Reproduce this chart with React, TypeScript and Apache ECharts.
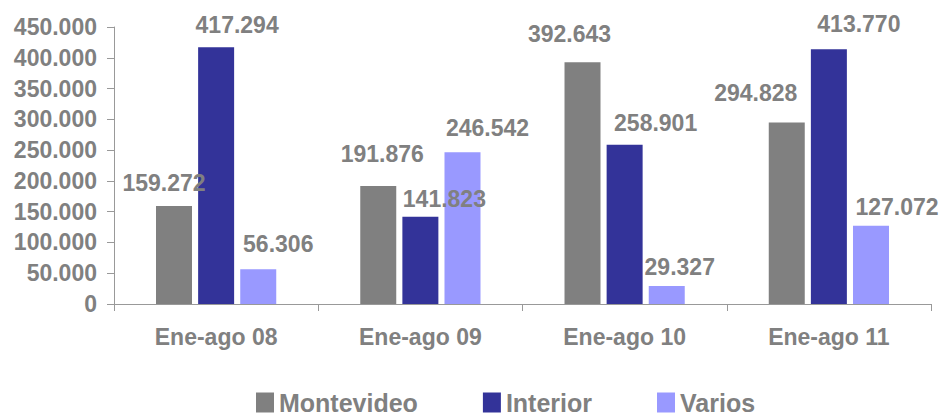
import React, { useEffect, useRef } from "react";
import * as echarts from "echarts";

const categories = ["Ene-ago 08", "Ene-ago 09", "Ene-ago 10", "Ene-ago 11"];
const montevideo = [159272, 191876, 392643, 294828];
const interior = [417294, 141823, 258901, 413770];
const varios = [56306, 246542, 29327, 127072];
const seriesNames = ["Montevideo", "Interior", "Varios"];
const seriesColors = ["#808080", "#333399", "#9999FF"];

// label nudges (styling only) [dx, dy] per series per category
const labelNudges = [
  [[-10, 0], [4, -9], [-13, -6], [-31, -7]],
  [[21, 0], [24, 5], [31, 1], [30, -3]],
  [[20, -3], [25, -2], [13, 4], [26, 4]],
];

const FONT = "'Liberation Sans', Arial, Helvetica, sans-serif";
const GRAY = "#808080";

function fmt(n: number): string {
  return String(Math.round(n)).replace(/\B(?=(\d{3})+(?!\d))/g, ".");
}

export default function App() {
  const ref = useRef<HTMLDivElement>(null);
  useEffect(() => {
    document.body.style.margin = "0";
    if (!ref.current) return;
    const chart = echarts.init(ref.current, undefined, { renderer: "svg" });
    const all = [montevideo, interior, varios];
    chart.setOption({
      animation: false,
      backgroundColor: "#ffffff",
      grid: { left: 114, right: 9, top: 27, bottom: 113, containLabel: false },
      legend: {
        left: 251,
        top: 385,
        itemGap: 65,
        itemWidth: 18,
        itemHeight: 20,
        icon: "rect",
        data: seriesNames,
        textStyle: { color: GRAY, fontSize: 25, fontWeight: "bold", fontFamily: FONT },
      },
      xAxis: {
        type: "category",
        data: categories,
        boundaryGap: true,
        axisLine: { lineStyle: { color: "#999999", width: 1 } },
        axisTick: { show: true, length: 7, lineStyle: { color: "#999999" } },
        axisLabel: { color: GRAY, fontSize: 23, fontWeight: "bold", fontFamily: FONT, margin: 21 },
        splitLine: { show: false },
      },
      yAxis: {
        type: "value",
        min: 0,
        max: 450000,
        interval: 50000,
        axisLine: { show: true, lineStyle: { color: "#999999", width: 1 } },
        axisTick: { show: true, length: 7, lineStyle: { color: "#999999" } },
        axisLabel: {
          color: GRAY,
          fontSize: 23,
          fontWeight: "bold",
          fontFamily: FONT,
          margin: 17,
          formatter: (v: number) => fmt(v),
        },
        splitLine: { show: false },
      },
      series: all.map((arr, si) => ({
        name: seriesNames[si],
        type: "bar",
        barWidth: 36,
        barGap: "17%",
        itemStyle: { color: seriesColors[si] },
        label: {
          show: true,
          position: "top",
          distance: 11,
          color: GRAY,
          fontSize: 23,
          fontWeight: "bold",
          fontFamily: FONT,
          formatter: (p: any) => fmt(p.value),
        },
        data: arr.map((v, ci) => ({
          value: v,
          label: { offset: labelNudges[si][ci] },
        })),
      })),
    });
    return () => chart.dispose();
  }, []);
  return <div ref={ref} style={{ width: 940, height: 417 }} />;
}
